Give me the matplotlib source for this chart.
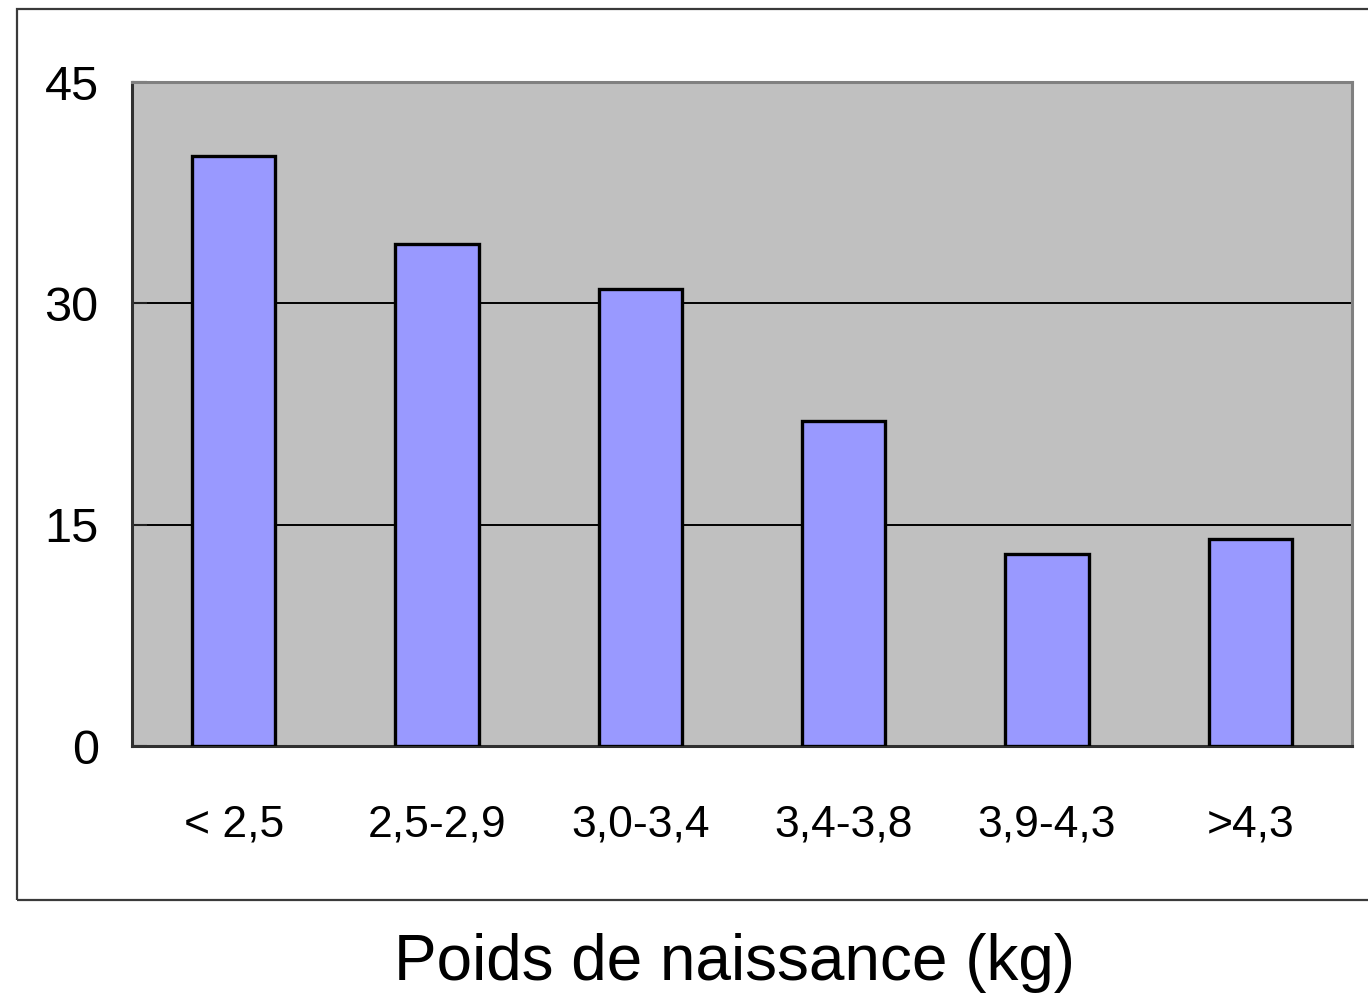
import matplotlib as mpl
mpl.use('Agg')
import matplotlib.pyplot as plt
from matplotlib.patches import Rectangle

plt.rcParams['font.family'] = ['Liberation Sans', 'DejaVu Sans']

# Données
categories = ['< 2,5', '2,5-2,9', '3,0-3,4', '3,4-3,8', '3,9-4,3', '>4,3']
valeurs = [40, 34, 31, 22, 13, 14]
yticks = [0, 15, 30, 45]

fig = plt.figure(figsize=(13.68, 10), dpi=100)
ax = fig.add_axes([132/1368, 254/1000, 1220/1368, 664/1000])

# cadre extérieur (coupé à droite comme dans l'original)
fig.patches.append(Rectangle((17/1368, 100/1000), 1.2, 891/1000, transform=fig.transFigure,
                             fill=False, edgecolor='#3a3a3a', lw=1.6, clip_on=False))

ax.set_facecolor('#c0c0c0')
x = range(len(categories))
ax.bar(x, valeurs, width=0.41, color='#9999ff', edgecolor='black', lw=2.4, zorder=3)

ax.set_xlim(-0.5, len(categories) - 0.5)
ax.set_ylim(0, 45)
ax.set_yticks(yticks)
ax.set_yticklabels([str(v) for v in yticks], fontsize=35)
ax.set_xticks(list(x))
ax.set_xticklabels(categories, fontsize=32)
ax.tick_params(axis='y', direction='in', length=11, width=1.5, color='#202020', pad=24)
ax.tick_params(axis='x', length=0, pad=42)

for v in yticks[1:-1]:
    ax.axhline(v, color='black', lw=1.4, zorder=1)

ax.spines['left'].set_color('#303030')
ax.spines['bottom'].set_color('#303030')
ax.spines['left'].set_linewidth(2.2)
ax.spines['bottom'].set_linewidth(2.2)
ax.spines['top'].set_color('#808080')
ax.spines['right'].set_color('#808080')
ax.spines['top'].set_linewidth(2.2)
ax.spines['right'].set_linewidth(2.2)

fig.text(735/1368, 20/1000, 'Poids de naissance (kg)', fontsize=46, ha='center', va='baseline')

fig.savefig('out.png', dpi=100)
